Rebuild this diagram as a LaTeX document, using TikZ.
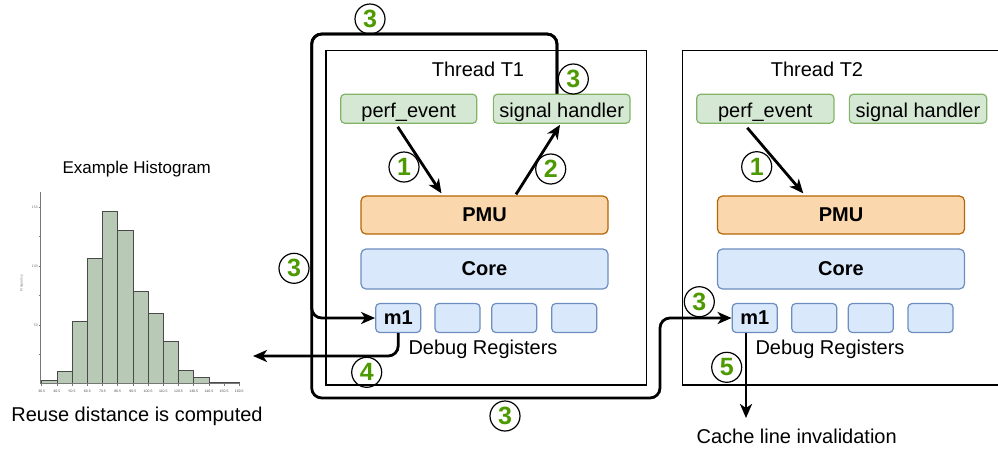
\documentclass[tikz,border=0pt]{standalone}
\usepackage{fontspec}
\setmainfont{Liberation Sans}
\usetikzlibrary{arrows.meta}
\definecolor{gfill}{HTML}{D5E8D4}
\definecolor{gline}{HTML}{82B366}
\definecolor{ofill}{HTML}{FAD7AC}
\definecolor{oline}{HTML}{B46504}
\definecolor{bfill}{HTML}{DAE8FC}
\definecolor{bline}{HTML}{6C8EBF}
\definecolor{numgreen}{HTML}{4D9900}
\definecolor{barfill}{HTML}{B8CAB6}
\definecolor{bardraw}{HTML}{4A4A4A}
\definecolor{axisgray}{HTML}{777777}
\newcommand\myfs{\fontsize{20}{24}\selectfont}
\begin{document}
\begin{tikzpicture}[x=1pt,y=-1pt,
  thread/.style={draw, line width=1.3pt, inner sep=0pt},
  gbox/.style={draw=gline, fill=gfill, line width=1.2pt, rounded corners=4pt, inner sep=0pt, minimum height=29pt, text height=18.5pt, text depth=1.5pt, font=\myfs},
  obox/.style={draw=oline, fill=ofill, line width=1.2pt, rounded corners=5pt, inner sep=0pt, minimum height=38pt, minimum width=247pt, font=\myfs\bfseries},
  bbox/.style={draw=bline, fill=bfill, line width=1.2pt, rounded corners=5pt, inner sep=0pt, minimum height=40pt, minimum width=247pt, font=\myfs\bfseries},
  reg/.style={draw=bline, fill=bfill, line width=1.2pt, rounded corners=4pt, inner sep=0pt, minimum height=29pt, minimum width=45pt, font=\myfs\bfseries},
  lbl/.style={inner sep=0pt, font=\myfs},
  num/.style={circle, draw, line width=1.2pt, minimum size=30pt, inner sep=0pt, text=numgreen, font=\fontsize{25}{28}\selectfont\bfseries},
  flow/.style={line width=2.8pt, -{Stealth[length=14pt,width=12pt,inset=4pt]}},
  tiny/.style={inner sep=0pt, font=\fontsize{3.5}{4}\selectfont, text=axisgray}
]
\useasboundingbox (0,0) rectangle (998,451);
\clip (0,0) rectangle (998,451);

% thread boxes
\node[thread, minimum width=320.5pt, minimum height=334.3pt] (t1) at (486.25,217.85) {};
\node[thread, minimum width=327.3pt, minimum height=334.3pt] (t2) at (846.35,217.85) {};
\node[lbl] (t1title) at (478,69) {Thread T1};
\node[lbl] (t2title) at (817,69) {Thread T2};

% thread T1 contents
\node[gbox, minimum width=136pt] (pe1) at (408.7,108.7) {perf\_event};
\node[gbox, minimum width=136.7pt] (sh1) at (561.7,108.7) {signal handler};
\node[obox] (pmu1) at (484.5,215) {PMU};
\node[bbox] (core1) at (484.5,269) {Core};
\node[reg] (m1a) at (398.2,318) {m1};
\node[reg] (r1b) at (457.5,318) {};
\node[reg] (r1c) at (514.3,318) {};
\node[reg] (r1d) at (574.2,318) {};
\node[lbl] (dr1) at (483,349) {Debug Registers};

% thread T2 contents
\node[gbox, minimum width=137.3pt] (pe2) at (765.3,108.7) {perf\_event};
\node[gbox, minimum width=137.3pt] (sh2) at (918,108.7) {signal handler};
\node[obox] (pmu2) at (841,215) {PMU};
\node[bbox] (core2) at (841,269) {Core};
\node[reg] (m1b) at (754.7,318) {m1};
\node[reg] (r2b) at (814.2,318) {};
\node[reg] (r2c) at (870.8,318) {};
\node[reg] (r2d) at (930.5,318) {};
\node[lbl] (dr2) at (830,349) {Debug Registers};

\node[lbl] (cache) at (796.7,436) {Cache line invalidation};

% coordinates for the long connectors
\coordinate (ltop) at (311.7,34);
\coordinate (lbot) at (311.7,398);
\coordinate (rbot) at (660,398);
\coordinate (histin) at (253,356);
\coordinate (cachetip) at (746,418);

% connectors
\draw[flow] ([xshift=-11pt,yshift=-3pt]pe1.south) -- ([xshift=-43pt,yshift=2pt]pmu1.north);
\draw[flow] ([xshift=31.5pt,yshift=1pt]pmu1.north) -- ([xshift=-1.7pt,yshift=-1pt]sh1.south);
\draw[flow] ([xshift=-18pt,yshift=-4pt]pe2.south) -- ([xshift=-37.7pt,yshift=2pt]pmu2.north);
\draw[flow, rounded corners=10pt] ([xshift=-4.7pt]sh1.north) |- (ltop) |- (m1a.west);
\draw[flow, rounded corners=10pt] ([xshift=-4.7pt]sh1.north) |- (ltop) -- (lbot) -- (rbot) |- (m1b.west);
\draw[flow, rounded corners=10pt] (m1a.south) |- (histin);
\draw[flow] ([xshift=-8.7pt]m1b.south) -- (cachetip);

% step numbers
\node[num] (n1a) at (404,167) {1};
\node[num] (n2a) at (550.7,169) {2};
\node[num] (n3top) at (370,19) {3};
\node[num] (n3sh) at (573.3,79) {3};
\node[num] (n3left) at (294,268.3) {3};
\node[num] (n3bot) at (505,416) {3};
\node[num] (n3t2) at (699.3,301.7) {3};
\node[num] (n4) at (366.7,372.3) {4};
\node[num] (n1b) at (756.7,166.7) {1};
\node[num] (n5) at (726.7,367.3) {5};

% histogram
\node[inner sep=0pt, font=\fontsize{17}{20}\selectfont] (htitle) at (136.7,169.5) {Example Histogram};
\node[lbl] (hcap) at (137,416.7) {Reuse distance is computed};
\foreach \h [count=\i from 0] in {380,371.7,321.3,258,211,230.3,291.7,313.7,341,370.3,377,382.3,382.3}{
  \draw[fill=barfill, draw=bardraw, line width=0.7pt] ({41.7+15.2*\i},383.3) rectangle ({41.7+15.2*(\i+1)},\h);
}
\draw[axisgray, line width=0.6pt] (40.7,191.7) -- (40.7,383.3) -- (240,383.3);
\foreach \y/\t in {207/150,266/100,325/50}{
  \draw[axisgray, line width=0.5pt] (38.5,\y) -- (40.7,\y);
  \node[tiny, anchor=east] at (38,\y) {\t};
}
\foreach \y in {236.5,295.5,354}{
  \draw[axisgray, line width=0.5pt] (39.3,\y) -- (40.7,\y);
}
\node[tiny, rotate=90] (freq) at (21.7,283) {Frequency};
\foreach \v [count=\i from 0] in {30.5,40.5,50.5,60.5,70.5,80.5,90.5,100.5,110.5,120.5,130.5,140.5,150.5,160.5}{
  \draw[axisgray, line width=0.5pt] ({41.7+15.2*\i},383.3) -- ({41.7+15.2*\i},385.5);
  \node[tiny, text=black!70] at ({41.7+15.2*\i},391) {\v};
}
\end{tikzpicture}
\end{document}
